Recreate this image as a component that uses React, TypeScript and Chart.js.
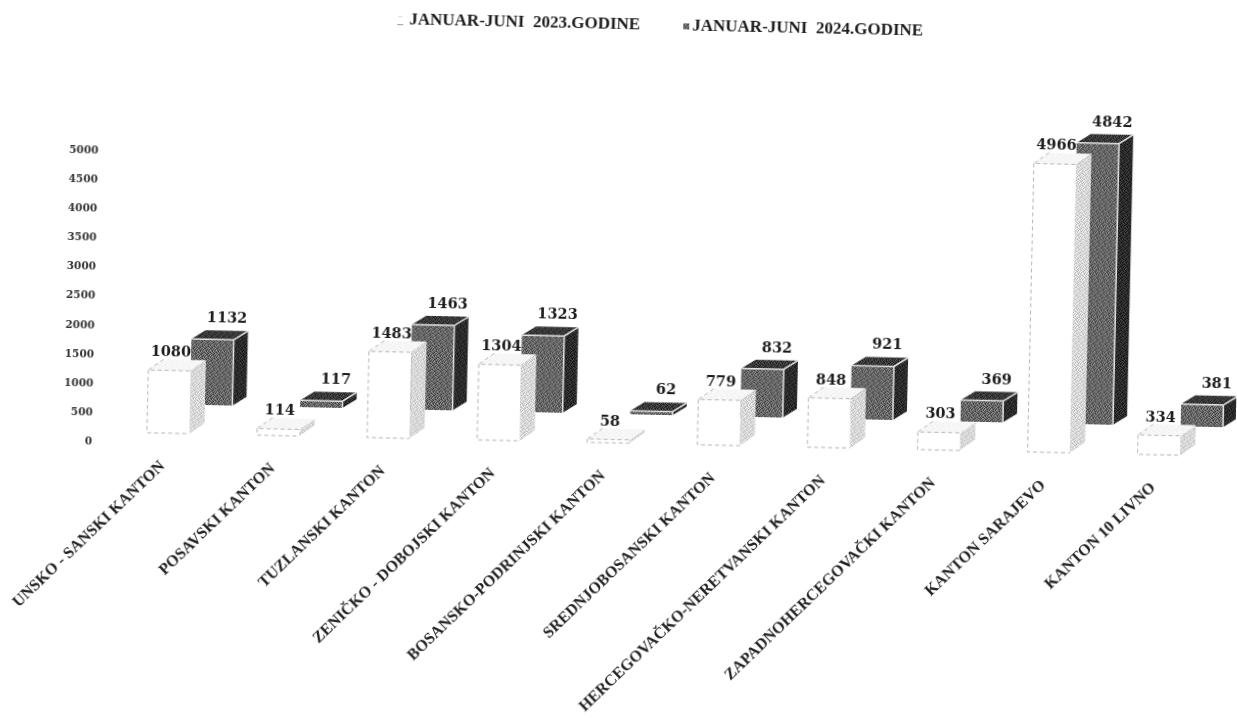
import React, { useEffect, useRef } from "react";
import { Chart, registerables } from "chart.js";

Chart.register(...registerables);

const categories = [
  "UNSKO - SANSKI KANTON",
  "POSAVSKI KANTON",
  "TUZLANSKI KANTON",
  "ZENIČKO - DOBOJSKI KANTON",
  "BOSANSKO-PODRINJSKI KANTON",
  "SREDNJOBOSANSKI KANTON",
  "HERCEGOVAČKO-NERETVANSKI KANTON",
  "ZAPADNOHERCEGOVAČKI KANTON",
  "KANTON SARAJEVO",
  "KANTON 10 LIVNO",
];
const values2023 = [1080, 114, 1483, 1304, 58, 779, 848, 303, 4966, 334];
const values2024 = [1132, 117, 1463, 1323, 62, 832, 921, 369, 4842, 381];
const yTicks = [0, 500, 1000, 1500, 2000, 2500, 3000, 3500, 4000, 4500, 5000];
const label2023 = "JANUAR-JUNI  2023.GODINE";
const label2024 = "JANUAR-JUNI  2024.GODINE";

const TILE = [
  [0, 3, -4, 5, -2, 1],
  [-5, 1, 4, -3, 2, -1],
  [3, -2, 0, 1, -5, 4],
  [-1, 5, -3, -4, 3, 0],
  [4, -4, 2, 0, 1, -3],
  [-2, 0, 5, -1, -4, 2],
];

function tile(base: number, amp: number) {
  const c = document.createElement("canvas");
  c.width = 12;
  c.height = 12;
  const g = c.getContext("2d")!;
  for (let y = 0; y < 12; y++) {
    for (let x = 0; x < 12; x++) {
      const v = Math.max(0, Math.min(255, base + TILE[y % 6][(x + (y > 5 ? 2 : 0)) % 6] * amp));
      g.fillStyle = `rgb(${v},${v},${v})`;
      g.fillRect(x, y, 1, 1);
    }
  }
  return g.createPattern(c, "repeat")!;
}

export default function App() {
  const ref = useRef<HTMLCanvasElement>(null);
  useEffect(() => {
    const canvas = ref.current!;
    const darkFront = tile(102, 12);
    const darkSide = tile(42, 7);
    const darkTop = tile(55, 8);
    const lightSide = tile(215, 8);
    const lightTop = tile(246, 2);

    const faces = {
      id: "faces3d",
      afterDatasetDraw(chart: any, args: any) {
        const ctx = chart.ctx;
        const isWhite = args.index === 0;
        const dx = isWhite ? 15 : 14;
        const dy = isWhite ? 11 : 9;
        for (const bar of args.meta.data) {
          const l = bar.x - bar.width / 2;
          const r = bar.x + bar.width / 2;
          const t = bar.y;
          const b = bar.base;
          ctx.save();
          ctx.fillStyle = isWhite ? lightSide : darkSide;
          ctx.beginPath();
          ctx.moveTo(r, t);
          ctx.lineTo(r + dx, t - dy);
          ctx.lineTo(r + dx, b - dy);
          ctx.lineTo(r, b);
          ctx.closePath();
          ctx.fill();
          ctx.fillStyle = isWhite ? lightTop : darkTop;
          ctx.beginPath();
          ctx.moveTo(l, t);
          ctx.lineTo(l + dx, t - dy);
          ctx.lineTo(r + dx, t - dy);
          ctx.lineTo(r, t);
          ctx.closePath();
          ctx.fill();
          if (isWhite) {
            ctx.strokeStyle = "#b5b5b5";
            ctx.lineWidth = 1;
            ctx.setLineDash([4, 3]);
            ctx.beginPath();
            ctx.moveTo(l + dx, t - dy);
            ctx.lineTo(l, t);
            ctx.lineTo(r, t);
            ctx.moveTo(l, t);
            ctx.lineTo(l, b);
            ctx.lineTo(r, b);
            ctx.stroke();
          } else {
            ctx.strokeStyle = "#e4e4e4";
            ctx.lineWidth = 1.5;
            ctx.beginPath();
            ctx.moveTo(l, t);
            ctx.lineTo(r, t);
            ctx.lineTo(r + dx, t - dy);
            ctx.moveTo(r, t);
            ctx.lineTo(r, b);
            ctx.stroke();
          }
          ctx.restore();
        }
      },
      afterDatasetsDraw(chart: any) {
        const ctx = chart.ctx;
        ctx.save();
        ctx.font = 'bold 14.5px "DejaVu Serif"';
        ctx.textAlign = "center";
        ctx.textBaseline = "alphabetic";
        ctx.fillStyle = "#1c1c1c";
        chart.data.datasets.forEach((ds: any, i: number) => {
          chart.getDatasetMeta(i).data.forEach((bar: any, j: number) => {
            const off = i === 0 ? 1 : 14;
            const rise = i === 0 ? 14 : 17;
            ctx.fillText(String(ds.data[j]), bar.x + off, bar.y - rise);
          });
        });
        // legend
        ctx.font = 'bold 17px "Liberation Serif"';
        ctx.textAlign = "left";
        ctx.textBaseline = "middle";
        ctx.fillStyle = "#1c1c1c";
        ctx.fillText(chart.data.datasets[0].label, 402, 25);
        ctx.fillText(chart.data.datasets[1].label, 685, 25);
        ctx.fillStyle = "#999";
        ctx.fillRect(390, 29, 6, 1);
        ctx.fillStyle = "#d8d8d8";
        ctx.fillRect(391, 21, 4, 1);
        ctx.fillStyle = darkFront;
        ctx.fillRect(676, 22, 6, 6);
        ctx.restore();
      },
    };

    const chart = new Chart(canvas, {
      type: "bar",
      data: {
        labels: categories,
        datasets: [
          {
            label: label2023,
            data: values2023,
            yAxisID: "yWhite",
            backgroundColor: "#ffffff",
            borderWidth: 0,
            barPercentage: 1,
            categoryPercentage: 0.77,
            clip: false,
          },
          {
            label: label2024,
            data: values2024,
            yAxisID: "yDark",
            backgroundColor: darkFront,
            borderWidth: 0,
            barPercentage: 1,
            categoryPercentage: 0.77,
            clip: false,
          },
        ],
      },
      options: {
        responsive: false,
        animation: false,
        layout: { padding: { left: 30, top: 92, right: 0, bottom: 0 } },
        plugins: {
          tooltip: { enabled: false },
          legend: { display: false },
        },
        scales: {
          x: {
            grid: { display: false, drawTicks: false },
            border: { display: false },
            afterFit: (s: any) => {
              s.height = 265;
            },
            ticks: {
              autoSkip: false,
              minRotation: 45,
              maxRotation: 45,
              padding: 14,
              labelOffset: -26,
              color: "#222",
              font: { family: '"Liberation Serif"', weight: "bold", size: 16 },
            },
          },
          y: {
            position: "left",
            min: 0,
            max: 6213,
            grid: { display: false, drawTicks: false },
            border: { display: false },
            afterFit: (s: any) => {
              s.width = 106;
            },
            afterBuildTicks: (s: any) => {
              s.ticks = yTicks.map((value) => ({ value }));
            },
            ticks: {
              autoSkip: false,
              padding: 42,
              color: "#333",
              callback: (v: any) => String(v),
              font: { family: '"DejaVu Serif"', weight: "bold", size: 10.5 },
            },
          },
          yWhite: { display: false, min: -172, max: 6041 },
          yDark: { display: false, min: -671, max: 5542 },
        },
      },
      plugins: [faces],
    } as any);
    return () => chart.destroy();
  }, []);

  return (
    <div style={{ position: "fixed", left: 0, top: 0, width: 1237, height: 718, overflow: "hidden", background: "#fff" }}>
      <canvas
        ref={ref}
        width={1237}
        height={718}
        style={{ display: "block", transform: "rotate(1.25deg)", filter: "blur(0.4px)" }}
      />
    </div>
  );
}
